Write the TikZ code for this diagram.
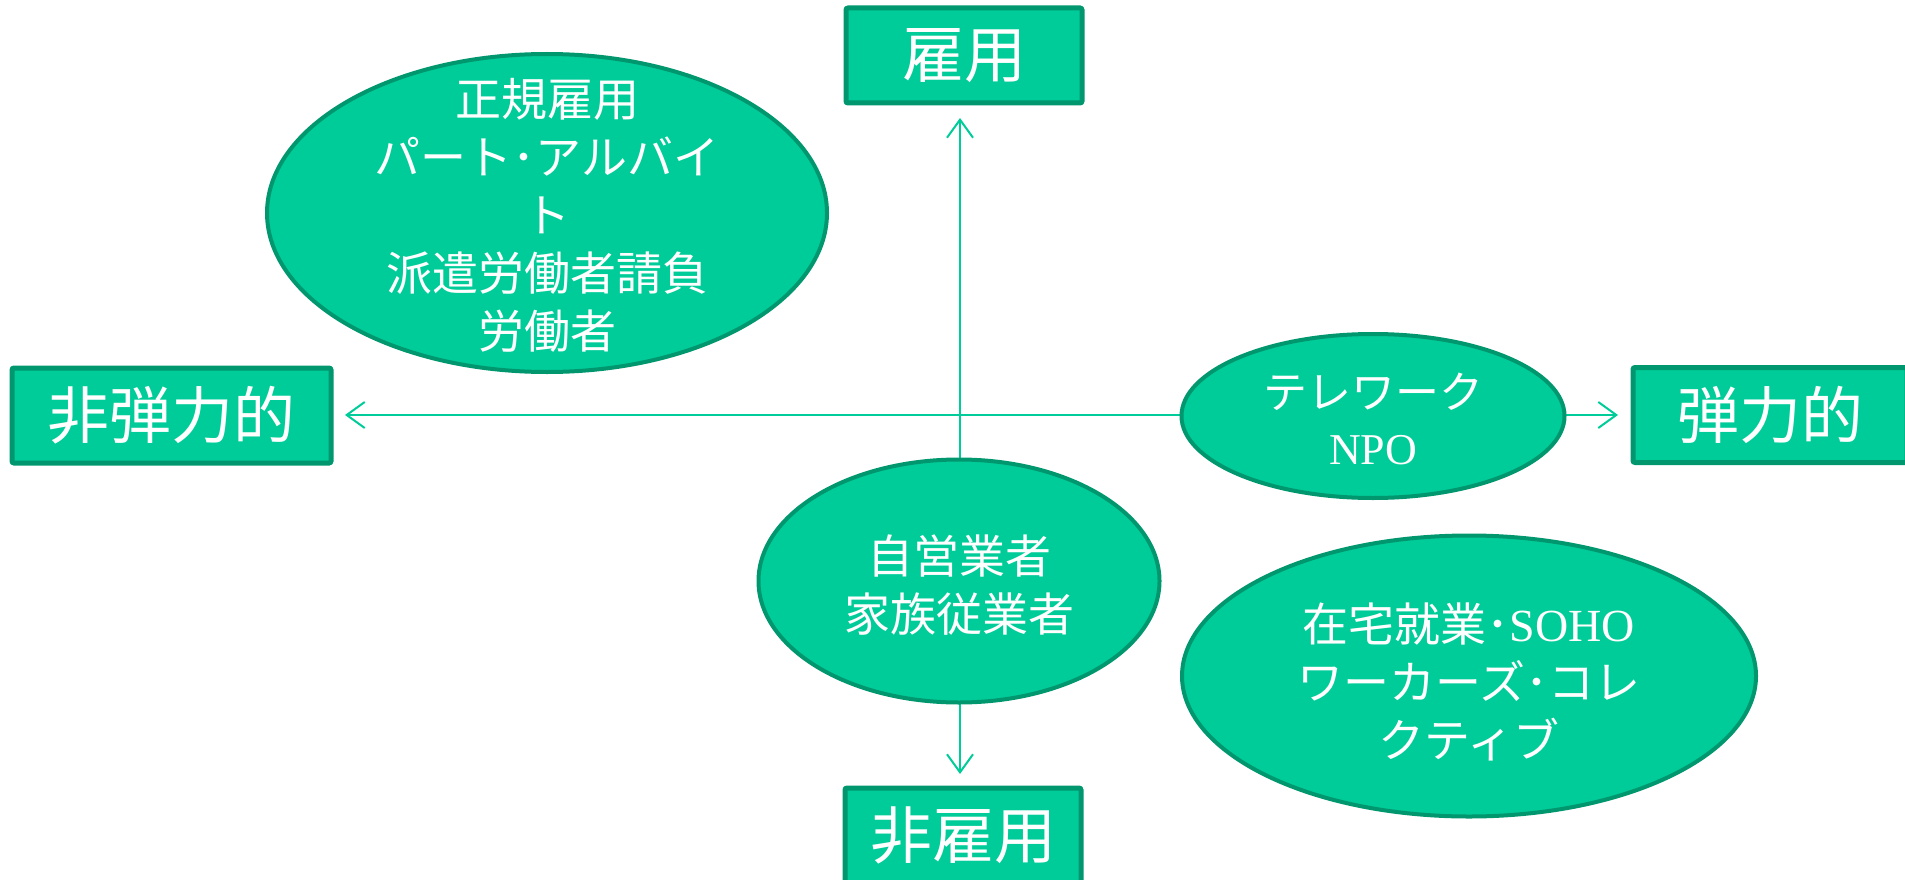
\documentclass[tikz,border=0pt]{standalone}
\usepackage{fontspec}
\setmainfont{Noto Sans CJK JP}
\newfontfamily\lat{Liberation Serif}
\usetikzlibrary{arrows.meta,shapes.geometric}
\definecolor{fillg}{HTML}{00CC99}
\definecolor{edgeg}{HTML}{00966E}
\begin{document}
\begin{tikzpicture}[x=1pt,y=-1pt,
  box/.style={draw=edgeg, line width=5pt, fill=fillg, rounded corners=2pt,
    minimum width=#1, minimum height=95pt, inner sep=0pt, text=white,
    font=\fontsize{62}{62}\selectfont},
  oval/.style={ellipse, draw=edgeg, line width=4pt, fill=fillg, inner sep=0pt},
  ovaltext/.style={text=white, align=center, inner sep=0pt,
    font=\fontsize{46}{58}\selectfont},
  axis/.style={draw=fillg, line width=2pt,
    {Straight Barb[length=18pt,width=26pt]}-{Straight Barb[length=18pt,width=26pt]}}]
\useasboundingbox (0,0) rectangle (1905,880);
% axis end points
\coordinate (tT) at (960,118);
\coordinate (tB) at (960,774);
\coordinate (tL) at (345,415);
\coordinate (tR) at (1618,415);
\draw[axis] (tT) -- (tB);
\draw[axis] (tL) -- (tR);
% boxes
\node[box=236pt] (koyo) at (964,55.5) {雇用};
\node[box=236pt] (hikoyo) at (963,835.5) {非雇用};
\node[box=319pt] (hidan) at (171.5,415.5) {非弾力的};
\node[box=274pt] (dan) at (1770,415) {弾力的};
% ellipses
\node[oval, minimum width=560pt, minimum height=318pt] (e1) at (547,213) {};
\node[oval, minimum width=383pt, minimum height=164pt] (e2) at (1373,416) {};
\node[oval, minimum width=401pt, minimum height=243pt] (e3) at (959,581) {};
\node[oval, minimum width=574pt, minimum height=281pt] (e4) at (1469,676) {};
% texts
\node[ovaltext] (e1t) at (547,215) {正規雇用\\パート･アルバイ\\ト\\派遣労働者請負\\労働者};
\node[ovaltext, font=\fontsize{44}{56}\selectfont] (e2t) at (1373,419) {テレワーク\\{\lat NPO}};
\node[ovaltext] (e3t) at (959,585) {自営業者\\家族従業者};
\node[ovaltext] (e4t) at (1469,682) {在宅就業･{\lat SOHO}\\ワーカーズ･コレ\\クティブ};
\end{tikzpicture}
\end{document}
